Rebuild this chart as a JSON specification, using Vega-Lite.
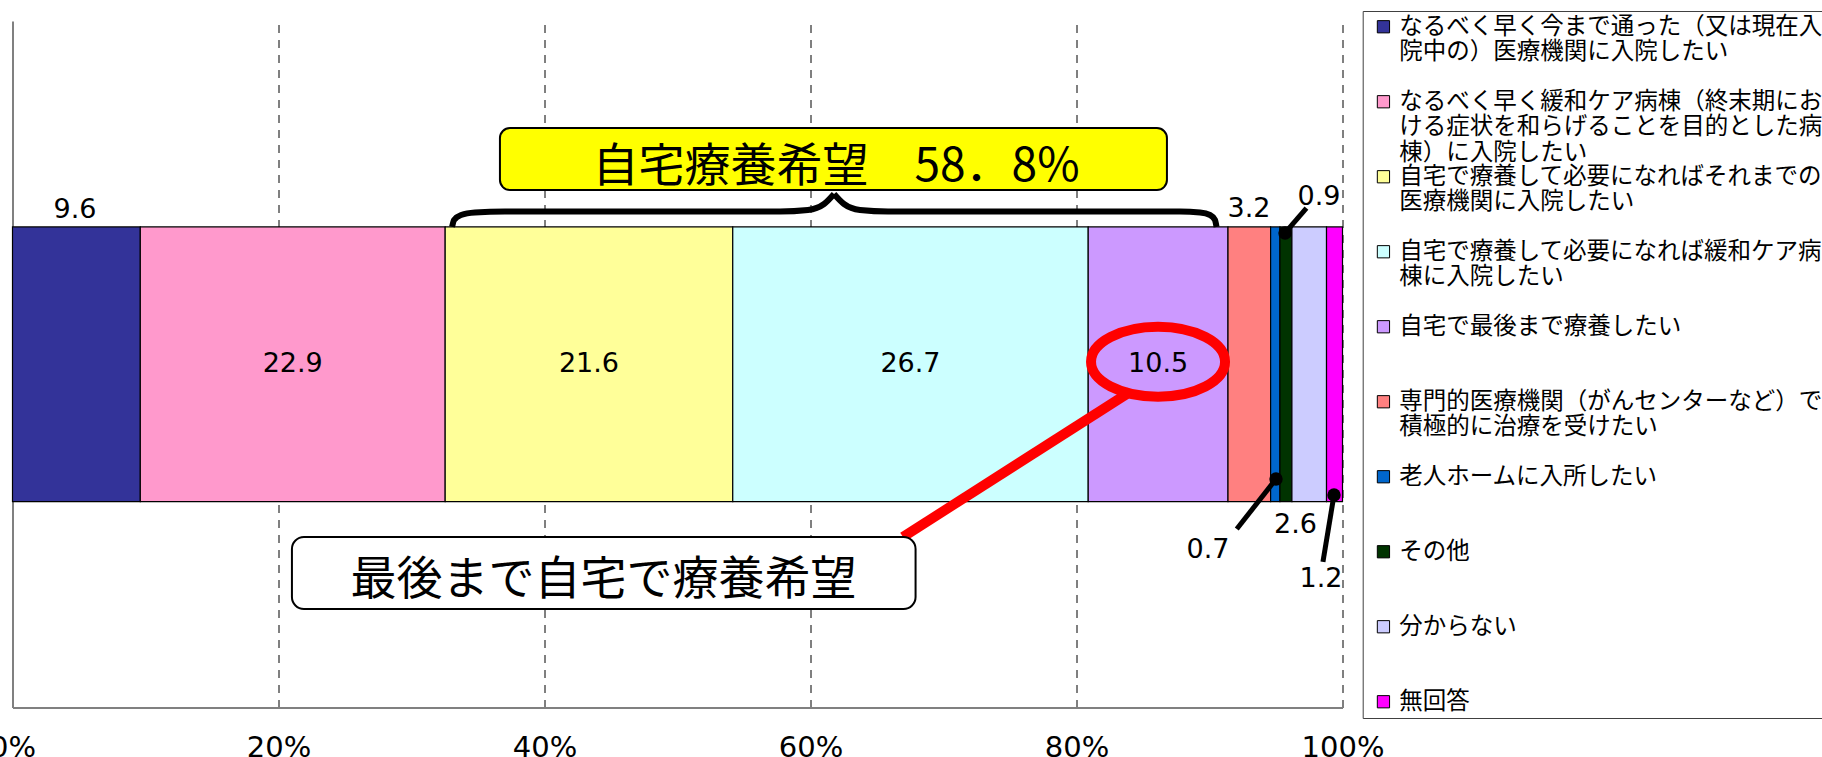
{
  "$schema": "https://vega.github.io/schema/vega-lite/v6.json",
  "width": 1330,
  "height": 686.5,
  "autosize": {"type": "none"},
  "padding": {"left": 12.5, "top": 21, "right": 479.5, "bottom": 49.5},
  "background": "white",
  "config": {"view": {"stroke": null}},
  "layer": [
    {
      "data": {"values": [
        {"idx": 1, "cat": "なるべく早く今まで通った（又は現在入\n院中の）医療機関に入院したい", "value": 9.6},
        {"idx": 2, "cat": "なるべく早く緩和ケア病棟（終末期にお\nける症状を和らげることを目的とした病\n棟）に入院したい", "value": 22.9},
        {"idx": 3, "cat": "自宅で療養して必要になればそれまでの\n医療機関に入院したい", "value": 21.6},
        {"idx": 4, "cat": "自宅で療養して必要になれば緩和ケア病\n棟に入院したい", "value": 26.7},
        {"idx": 5, "cat": "自宅で最後まで療養したい", "value": 10.5},
        {"idx": 6, "cat": "専門的医療機関（がんセンターなど）で\n積極的に治療を受けたい", "value": 3.2},
        {"idx": 7, "cat": "老人ホームに入所したい", "value": 0.7},
        {"idx": 8, "cat": "その他", "value": 0.9},
        {"idx": 9, "cat": "分からない", "value": 2.6},
        {"idx": 10, "cat": "無回答", "value": 1.2}
      ]},
      "layer": [
        {
          "mark": {"type": "bar", "stroke": "black", "strokeWidth": 1.2},
          "encoding": {
            "x": {"field": "value", "type": "quantitative", "stack": "normalize",
              "scale": {"domain": [0, 1], "nice": false},
              "axis": {"values": [0, 0.2, 0.4, 0.6, 0.8, 1], "format": ".0%", "title": null, "ticks": false,
                "labelPadding": 26, "labelFont": "DejaVu Sans", "labelFontSize": 29, "labelColor": "black",
                "labelFlush": false, "labelOverlap": false,
                "domainColor": "#808080", "domainWidth": 2,
                "grid": true, "gridColor": "black", "gridDash": [8, 7], "gridWidth": 1,
                "gridOpacity": {"condition": {"test": "datum.value === 0", "value": 0}, "value": 1}}},
            "y": {"datum": "all", "type": "nominal",
              "scale": {"paddingOuter": 0.75, "paddingInner": 0},
              "axis": {"title": null, "labels": false, "ticks": false, "domainColor": "#808080", "domainWidth": 2}},
            "color": {"field": "cat", "type": "nominal",
              "scale": {
                "domain": [
                  "なるべく早く今まで通った（又は現在入\n院中の）医療機関に入院したい",
                  "なるべく早く緩和ケア病棟（終末期にお\nける症状を和らげることを目的とした病\n棟）に入院したい",
                  "自宅で療養して必要になればそれまでの\n医療機関に入院したい",
                  "自宅で療養して必要になれば緩和ケア病\n棟に入院したい",
                  "自宅で最後まで療養したい",
                  "専門的医療機関（がんセンターなど）で\n積極的に治療を受けたい",
                  "老人ホームに入所したい",
                  "その他",
                  "分からない",
                  "無回答"
                ],
                "range": ["#333399", "#FF99CC", "#FFFF99", "#CCFFFF", "#CC99FF", "#FF8080", "#0066CC", "#003300", "#CCCCFF", "#FF00FF"]
              },
              "legend": {
                "orient": "none", "legendX": 1350.2, "legendY": -10, "title": null,
                "symbolType": "square", "symbolSize": 150, "symbolStrokeColor": "black", "symbolStrokeWidth": 1, "symbolOpacity": 1,
                "labelFont": "Noto Sans CJK JP", "labelFontSize": 23.5, "labelColor": "black", "labelLimit": 2000,
                "labelExpr": "split(datum.label, '\\n')", "labelBaseline": "line-top",
                "labelOffset": 4, "symbolOffset": 5, "padding": 4, "rowPadding": -1.5, "gridAlign": "all",
                "strokeColor": "#404040", "fillColor": "white",
                "encode": {"labels": {"update": {"dy": {"value": -13}}}}
              }},
            "order": {"field": "idx"}
          }
        },
        {
          "mark": {"type": "text", "font": "DejaVu Sans", "fontSize": 27, "color": "black"},
          "encoding": {
            "x": {"field": "value", "type": "quantitative", "stack": "normalize", "bandPosition": 0.5},
            "y": {"datum": "all", "type": "nominal"},
            "text": {"condition": {"test": "datum.idx >= 2 && datum.idx <= 5", "field": "value", "format": ".1f"}, "value": ""},
            "order": {"field": "idx"}
          }
        }
      ]
    },
    {
      "layer": [
        {
          "data": {"values": [{"x": 0.8402, "y": 45.96, "x2": 0.6695, "y2": 24.84}]},
          "mark": {"type": "rule", "color": "#FF0000", "strokeWidth": 10, "strokeCap": "butt"},
          "encoding": {
            "x": {"field": "x", "type": "quantitative"},
            "x2": {"field": "x2"},
            "y": {"field": "y", "type": "quantitative", "scale": {"domain": [0, 100], "nice": false, "zero": false}, "axis": null},
            "y2": {"field": "y2"}
          }
        },
        {
          "data": {"values": [{"x": 0.3665, "x2": 0.868, "y": 84.41, "y2": 75.38}]},
          "mark": {"type": "rect", "fill": "#FFFF00", "stroke": "black", "strokeWidth": 2, "cornerRadius": 10},
          "encoding": {
            "x": {"field": "x", "type": "quantitative"},
            "x2": {"field": "x2"},
            "y": {"field": "y", "type": "quantitative", "scale": {"domain": [0, 100], "nice": false, "zero": false}, "axis": null},
            "y2": {"field": "y2"}
          }
        },
        {
          "data": {"values": [{"x": 0.2101, "x2": 0.679, "y": 24.84, "y2": 14.35}]},
          "mark": {"type": "rect", "fill": "white", "stroke": "black", "strokeWidth": 2, "cornerRadius": 12},
          "encoding": {
            "x": {"field": "x", "type": "quantitative"},
            "x2": {"field": "x2"},
            "y": {"field": "y", "type": "quantitative", "scale": {"domain": [0, 100], "nice": false, "zero": false}, "axis": null},
            "y2": {"field": "y2"}
          }
        },
        {
          "data": {"values": [{"x": 0.8613, "y": 50.37}]},
          "mark": {"type": "point", "shape": "M -1 0 C -1 -0.2884 -0.5523 -0.522 0 -0.522 C 0.5523 -0.522 1 -0.2884 1 0 C 1 0.2884 0.5523 0.522 0 0.522 C -0.5523 0.522 -1 0.2884 -1 0 Z", "filled": false, "color": "#FF0000", "strokeWidth": 10, "size": 17956, "opacity": 1},
          "encoding": {
            "x": {"field": "x", "type": "quantitative"},
            "y": {"field": "y", "type": "quantitative", "scale": {"domain": [0, 100], "nice": false, "zero": false}, "axis": null}
          }
        },
        {
          "data": {"values": [
            {"side": "L", "x": 0.3305, "y": 70.0},
            {"side": "L", "x": 0.332, "y": 71.02},
            {"side": "L", "x": 0.3373, "y": 71.74},
            {"side": "L", "x": 0.3477, "y": 72.1},
            {"side": "L", "x": 0.3703, "y": 72.25},
            {"side": "L", "x": 0.5771, "y": 72.25},
            {"side": "L", "x": 0.5981, "y": 72.47},
            {"side": "L", "x": 0.6102, "y": 73.34},
            {"side": "L", "x": 0.6177, "y": 74.8},
            {"side": "R", "x": 0.6177, "y": 74.8},
            {"side": "R", "x": 0.6252, "y": 73.34},
            {"side": "R", "x": 0.6372, "y": 72.47},
            {"side": "R", "x": 0.6583, "y": 72.25},
            {"side": "R", "x": 0.8778, "y": 72.25},
            {"side": "R", "x": 0.8929, "y": 72.1},
            {"side": "R", "x": 0.9004, "y": 71.74},
            {"side": "R", "x": 0.9041, "y": 71.02},
            {"side": "R", "x": 0.9053, "y": 70.0}
          ]},
          "mark": {"type": "line", "color": "black", "strokeWidth": 6, "interpolate": "monotone", "strokeCap": "butt"},
          "encoding": {
            "x": {"field": "x", "type": "quantitative"},
            "y": {"field": "y", "type": "quantitative", "scale": {"domain": [0, 100], "nice": false, "zero": false}, "axis": null},
            "detail": {"field": "side"}
          }
        },
        {
          "data": {"values": [
            {"x": 0.9568, "y": 69.12, "x2": 0.9729, "y2": 72.76},
            {"x": 0.95, "y": 33.28, "x2": 0.9205, "y2": 26.0},
            {"x": 0.9936, "y": 30.95, "x2": 0.9853, "y2": 21.2}
          ]},
          "mark": {"type": "rule", "color": "black", "strokeWidth": 5, "strokeCap": "butt"},
          "encoding": {
            "x": {"field": "x", "type": "quantitative"},
            "x2": {"field": "x2"},
            "y": {"field": "y", "type": "quantitative", "scale": {"domain": [0, 100], "nice": false, "zero": false}, "axis": null},
            "y2": {"field": "y2"}
          }
        },
        {
          "data": {"values": [
            {"x": 0.9568, "y": 69.12},
            {"x": 0.95, "y": 33.28},
            {"x": 0.9936, "y": 30.95}
          ]},
          "mark": {"type": "point", "shape": "circle", "filled": true, "color": "black", "size": 180, "opacity": 1},
          "encoding": {
            "x": {"field": "x", "type": "quantitative"},
            "y": {"field": "y", "type": "quantitative", "scale": {"domain": [0, 100], "nice": false, "zero": false}, "axis": null}
          }
        },
        {
          "data": {"values": [
            {"x": 0.6192, "y": 78.7, "label": "自宅療養希望　58．8%"},
            {"x": 0.4444, "y": 18.51, "label": "最後まで自宅で療養希望"}
          ]},
          "mark": {"type": "text", "font": "Noto Sans CJK JP", "fontSize": 46, "color": "black", "align": "center", "baseline": "middle"},
          "encoding": {
            "x": {"field": "x", "type": "quantitative"},
            "y": {"field": "y", "type": "quantitative", "scale": {"domain": [0, 100], "nice": false, "zero": false}, "axis": null},
            "text": {"field": "label"}
          }
        },
        {
          "data": {"values": [
            {"x": 0.047, "y": 72.5, "label": "9.6"},
            {"x": 0.9297, "y": 72.58, "label": "3.2"},
            {"x": 0.9823, "y": 74.41, "label": "0.9"},
            {"x": 0.8989, "y": 22.99, "label": "0.7"},
            {"x": 0.9647, "y": 26.63, "label": "2.6"},
            {"x": 0.9838, "y": 18.76, "label": "1.2"}
          ]},
          "mark": {"type": "text", "font": "DejaVu Sans", "fontSize": 27, "color": "black", "align": "center", "baseline": "middle"},
          "encoding": {
            "x": {"field": "x", "type": "quantitative"},
            "y": {"field": "y", "type": "quantitative", "scale": {"domain": [0, 100], "nice": false, "zero": false}, "axis": null},
            "text": {"field": "label"}
          }
        }
      ]
    }
  ],
  "resolve": {"scale": {"y": "independent"}, "axis": {"y": "independent"}}
}
